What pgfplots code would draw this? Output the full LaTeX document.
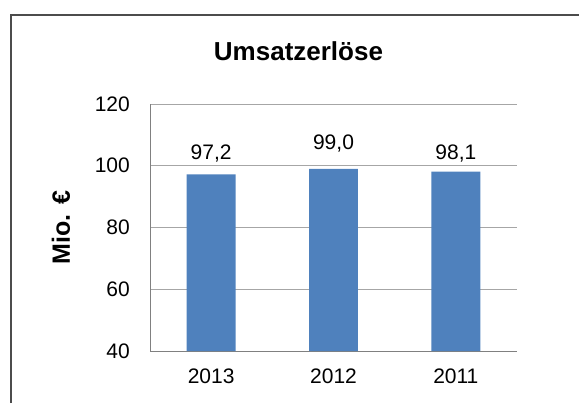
\documentclass[border=0pt]{standalone}
\usepackage{pgfplots}
\pgfplotsset{compat=1.18}
\usepackage{fontspec}
\setmainfont{Liberation Sans}
\definecolor{barblue}{HTML}{4F81BD}
\begin{document}
\begin{tikzpicture}[x=1bp,y=1bp]
\useasboundingbox (0,0) rectangle (579,403);
\draw[line width=2.5bp, color=black!70] (11,0) -- (11,388) -- (579,388);
\node[font=\fontsize{26bp}{30bp}\selectfont\bfseries] at (298.5,352) {Umsatzerlöse};
\begin{axis}[
  at={(150bp,52bp)}, anchor=south west,
  scale only axis, width=367bp, height=247bp,
  xmin=-0.5, xmax=2.5, ymin=40, ymax=120,
  ytick={40,60,80,100,120},
  xtick={0,1,2}, xticklabels={2013,2012,2011},
  axis x line=bottom, axis y line=left,
  axis line style={-, color=black!50, line width=1bp},
  ymajorgrids, grid style={color=black!35, line width=1bp},
  major tick length=0,
  /pgf/number format/assume math mode=true,
  ticklabel style={font=\fontsize{21bp}{25bp}\selectfont, inner sep=0pt},
  yticklabel style={anchor=east, xshift=-20bp},
  xticklabel style={anchor=north, yshift=-18bp},
  ylabel={Mio. €},
  ylabel style={at={(axis description cs:-0.2425,0.5)}, anchor=center, rotate=0, font=\fontsize{25bp}{30bp}\selectfont\bfseries},
]
\addplot[ybar, bar width=0.4, fill=barblue, draw=none,
  nodes near coords, point meta=explicit symbolic,
  visualization depends on={\thisrow{off} \as \off},
  nodes near coords style={anchor=center, yshift=\off bp, fill=white, inner xsep=8bp, inner ysep=2bp, text=black, font=\fontsize{21bp}{25bp}\selectfont}]
  table[x=x, y=y, meta=lbl]{
x y lbl off
0 97.2 97,2 20.4
1 99.0 99,0 25.4
2 98.1 98,1 17.7
};
\end{axis}
\end{tikzpicture}
\end{document}
